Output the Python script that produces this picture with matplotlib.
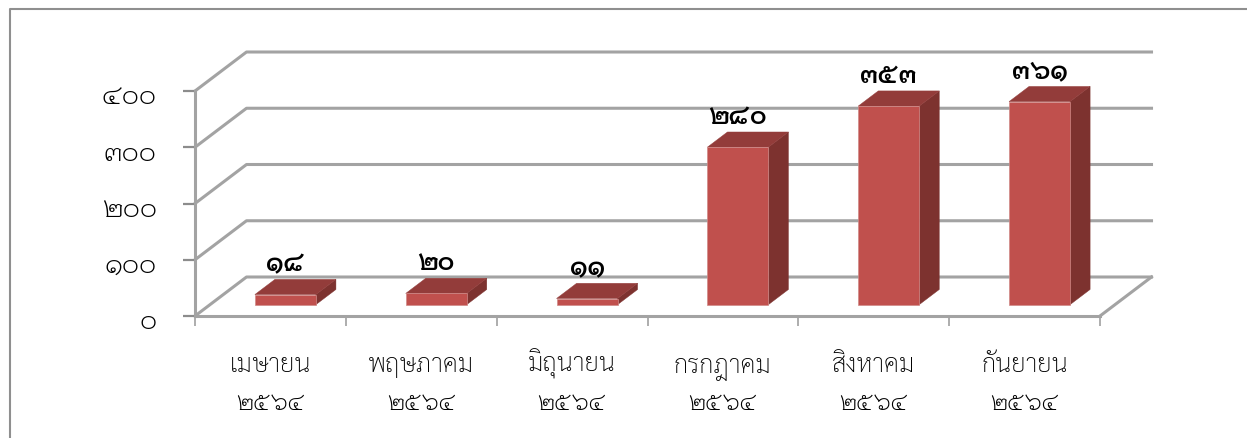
import matplotlib
matplotlib.use("Agg")
import matplotlib.pyplot as plt
from matplotlib.patches import Polygon
from matplotlib.lines import Line2D

plt.rcParams['font.family'] = ['Sarabun', 'DejaVu Sans']

# ข้อมูลจากรูป
months = ["เมษายน", "พฤษภาคม", "มิถุนายน", "กรกฎาคม", "สิงหาคม", "กันยายน"]
year = "๒๕๖๔"
values = [18, 20, 11, 280, 353, 361]
value_labels = ["๑๘", "๒๐", "๑๑", "๒๘๐", "๓๕๓", "๓๖๑"]
y_ticks = [0, 100, 200, 300, 400]
y_tick_labels = ["๐", "๑๐๐", "๒๐๐", "๓๐๐", "๔๐๐"]

W, H = 1247, 438
FRONT = "#c0504d"
TOP = "#933c3a"
SIDE = "#7d322f"
GRID = "#a3a3a3"
DIGITS = "Niramit"

fig = plt.figure(figsize=(W / 100, H / 100), dpi=100)
ax = fig.add_axes([195 / W, (H - 316) / H, 905 / W, 225 / H])
ax.set_xlim(0, 6)
ax.set_ylim(0, 400)
ax.patch.set_visible(False)

# ความลึกของกล่อง 3 มิติ แปลงเป็นหน่วยข้อมูล
dx = 51.5 / (905 / 6)
dy = 39 / (225 / 400)
bar_w = 61 / (905 / 6)


def depth(x, v, d):
    return x + d * dx, v + d * dy


# เส้นกริดผนังหลังและพื้น
for t in y_ticks:
    xs, ys = zip(depth(0, t, 0), depth(0, t, 1), depth(6, t, 1))
    ax.plot(xs, ys, color=GRID, lw=2.2, clip_on=False, zorder=1)
xs, ys = zip(depth(6, 0, 0), depth(6, 0, 1))
ax.plot(xs, ys, color=GRID, lw=2.2, clip_on=False, zorder=1)

# แท่ง
d0, d1 = 0.29, 0.68
for i, v in enumerate(values):
    x0 = i + 0.5 - bar_w / 2
    x1 = i + 0.5 + bar_w / 2
    front = [depth(x0, 0, d0), depth(x1, 0, d0), depth(x1, v, d0), depth(x0, v, d0)]
    top = [depth(x0, v, d0), depth(x1, v, d0), depth(x1, v, d1), depth(x0, v, d1)]
    side = [depth(x1, 0, d0), depth(x1, 0, d1), depth(x1, v, d1), depth(x1, v, d0)]
    ax.add_patch(Polygon(side, fc=SIDE, ec=SIDE, lw=0.3, clip_on=False, zorder=3))
    ax.add_patch(Polygon(top, fc=TOP, ec=TOP, lw=0.3, clip_on=False, zorder=3))
    ax.add_patch(Polygon(front, fc=FRONT, ec="#d08a88", lw=0.5, clip_on=False, zorder=4))
    lx, ly = depth(i + 0.5, v, d0)
    ax.annotate(value_labels[i], (lx, ly), xytext=(0, 21.5), textcoords="offset points",
                ha="center", va="center", fontsize=18.5, fontweight="semibold", family=DIGITS,
                color="black", zorder=5, annotation_clip=False)

# แกน
for s in ["top", "right"]:
    ax.spines[s].set_visible(False)
for s in ["left", "bottom"]:
    ax.spines[s].set_color(GRID)
    ax.spines[s].set_linewidth(2.2)
    ax.spines[s].set_zorder(2)

ax.set_yticks(y_ticks)
ax.set_yticklabels([])
ax.tick_params(axis="y", length=8.5, width=1.6, color="#8c8c8c")
for t, lab in zip(y_ticks, y_tick_labels):
    ax.annotate(lab, (0, t), xytext=(-27.5, -5), textcoords="offset points",
                ha="right", va="center", fontsize=19.3, family=DIGITS, fontweight="light",
                color="black", annotation_clip=False)

ax.set_xticks(range(7))
ax.set_xticklabels([])
ax.tick_params(axis="x", which="major", length=7, width=1.2, color="#a0a0a0")

# ชื่อเดือนและปี วางตามเส้นฐานเพื่อให้สระบน/ล่างไม่ดันบรรทัด
xaxis_tr = ax.get_xaxis_transform()
for i, m in enumerate(months):
    ax.annotate(m, (i + 0.5, 0), xycoords=xaxis_tr, xytext=(0, -40.3), textcoords="offset points",
                ha="center", va="baseline", fontsize=18.5, fontweight="light",
                color="black", annotation_clip=False)
    ax.annotate(year, (i + 0.5, 0), xycoords=xaxis_tr, xytext=(0, -67.7), textcoords="offset points",
                ha="center", va="baseline", fontsize=16, family=DIGITS, fontweight="light",
                color="black", annotation_clip=False)

# กรอบรูป
fig.add_artist(Line2D([9.5 / W, 9.5 / W, 1], [0, (H - 9) / H, (H - 9) / H],
                      color="#8f8f8f", lw=1.5))

fig.savefig("out.png", dpi=100, facecolor="white")
